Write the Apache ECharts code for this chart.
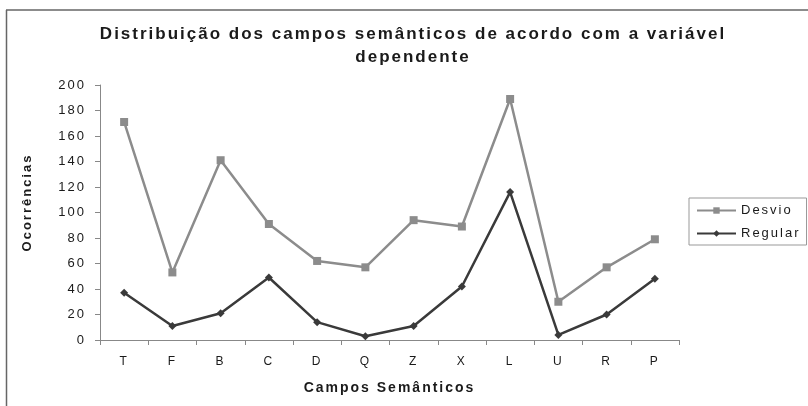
<!DOCTYPE html>
<html>
<head>
<meta charset="utf-8">
<script src="https://cdn.jsdelivr.net/npm/echarts@6/dist/echarts.min.js"></script>
<style>
  html, body { margin: 0; padding: 0; background: #fff; }
  #main { width: 808px; height: 406px; }
</style>
</head>
<body>
<div id="main"></div>
<script>
// campos semânticos (eixo x)
var categorias = ['T', 'F', 'B', 'C', 'D', 'Q', 'Z', 'X', 'L', 'U', 'R', 'P'];
// ocorrências por série
var desvio = [171, 53, 141, 91, 62, 57, 94, 89, 189, 30, 57, 79];
var regular = [37, 11, 21, 49, 14, 3, 11, 42, 116, 4, 20, 48];

// o gráfico original tem as letras espaçadas: aplica letterSpacing em todo texto do canvas
var fontDesc = Object.getOwnPropertyDescriptor(CanvasRenderingContext2D.prototype, 'font');
Object.defineProperty(CanvasRenderingContext2D.prototype, 'font', {
  configurable: true,
  get: function () { return fontDesc.get.call(this); },
  set: function (v) {
    fontDesc.set.call(this, v);
    if ('letterSpacing' in this) this.letterSpacing = '2px';
  }
});

var fonte = '"Liberation Sans", Arial, sans-serif';

var myChart = echarts.init(document.getElementById('main'));
var option = {
  backgroundColor: '#fff',
  animation: false,
  title: {
    text: 'Distribuição dos campos semânticos de acordo com a variável\ndependente',
    left: 408,
    top: 18,
    textAlign: 'center',
    textStyle: {
      fontFamily: fonte,
      fontSize: 17,
      fontWeight: 'bold',
      color: '#1a1a1a',
      lineHeight: 23
    }
  },
  legend: {
    orient: 'vertical',
    left: 689,
    top: 198,
    itemWidth: 39,
    itemHeight: 8,
    itemGap: 8,
    padding: [5, 6, 4, 7],
    borderColor: '#999',
    borderWidth: 1,
    textStyle: { fontFamily: fonte, fontSize: 13, color: '#1a1a1a' },
    data: ['Desvio', 'Regular']
  },
  grid: { left: 100, right: 129, top: 85, bottom: 66 },
  xAxis: {
    type: 'category',
    data: categorias,
    name: 'Campos Semânticos',
    nameLocation: 'middle',
    nameGap: 40,
    nameTextStyle: { fontFamily: fonte, fontSize: 14, fontWeight: 'bold', color: '#1a1a1a' },
    axisLine: { lineStyle: { color: '#888', width: 1 } },
    axisTick: { show: true, length: 5, lineStyle: { color: '#888' } },
    axisLabel: { margin: 15, fontFamily: fonte, fontSize: 12, color: '#1a1a1a' }
  },
  yAxis: {
    type: 'value',
    min: 0,
    max: 200,
    interval: 20,
    name: 'Ocorrências',
    nameLocation: 'middle',
    nameGap: 65,
    nameTextStyle: { fontFamily: fonte, fontSize: 13, fontWeight: 'bold', color: '#1a1a1a', padding: [0, 0, 0, 20] },
    axisLine: { show: true, lineStyle: { color: '#888', width: 1 } },
    axisTick: { show: true, length: 5, lineStyle: { color: '#888' } },
    splitLine: { show: false },
    axisLabel: { margin: 14, fontFamily: fonte, fontSize: 13, color: '#1a1a1a' }
  },
  graphic: [
    { type: 'line', shape: { x1: 6, y1: 10, x2: 808, y2: 10 }, style: { stroke: '#666', lineWidth: 1.5 } },
    { type: 'line', shape: { x1: 6.5, y1: 10, x2: 6.5, y2: 406 }, style: { stroke: '#666', lineWidth: 1.5 } }
  ],
  series: [
    {
      name: 'Desvio',
      type: 'line',
      data: desvio,
      symbol: 'rect',
      symbolSize: 8,
      color: '#8c8c8c',
      lineStyle: { width: 2.5, color: '#8c8c8c' },
      itemStyle: { color: '#8c8c8c' }
    },
    {
      name: 'Regular',
      type: 'line',
      data: regular,
      symbol: 'diamond',
      symbolSize: 8,
      color: '#3a3a3a',
      lineStyle: { width: 2.5, color: '#3a3a3a' },
      itemStyle: { color: '#3a3a3a' }
    }
  ]
};
myChart.setOption(option);
</script>
</body>
</html>
